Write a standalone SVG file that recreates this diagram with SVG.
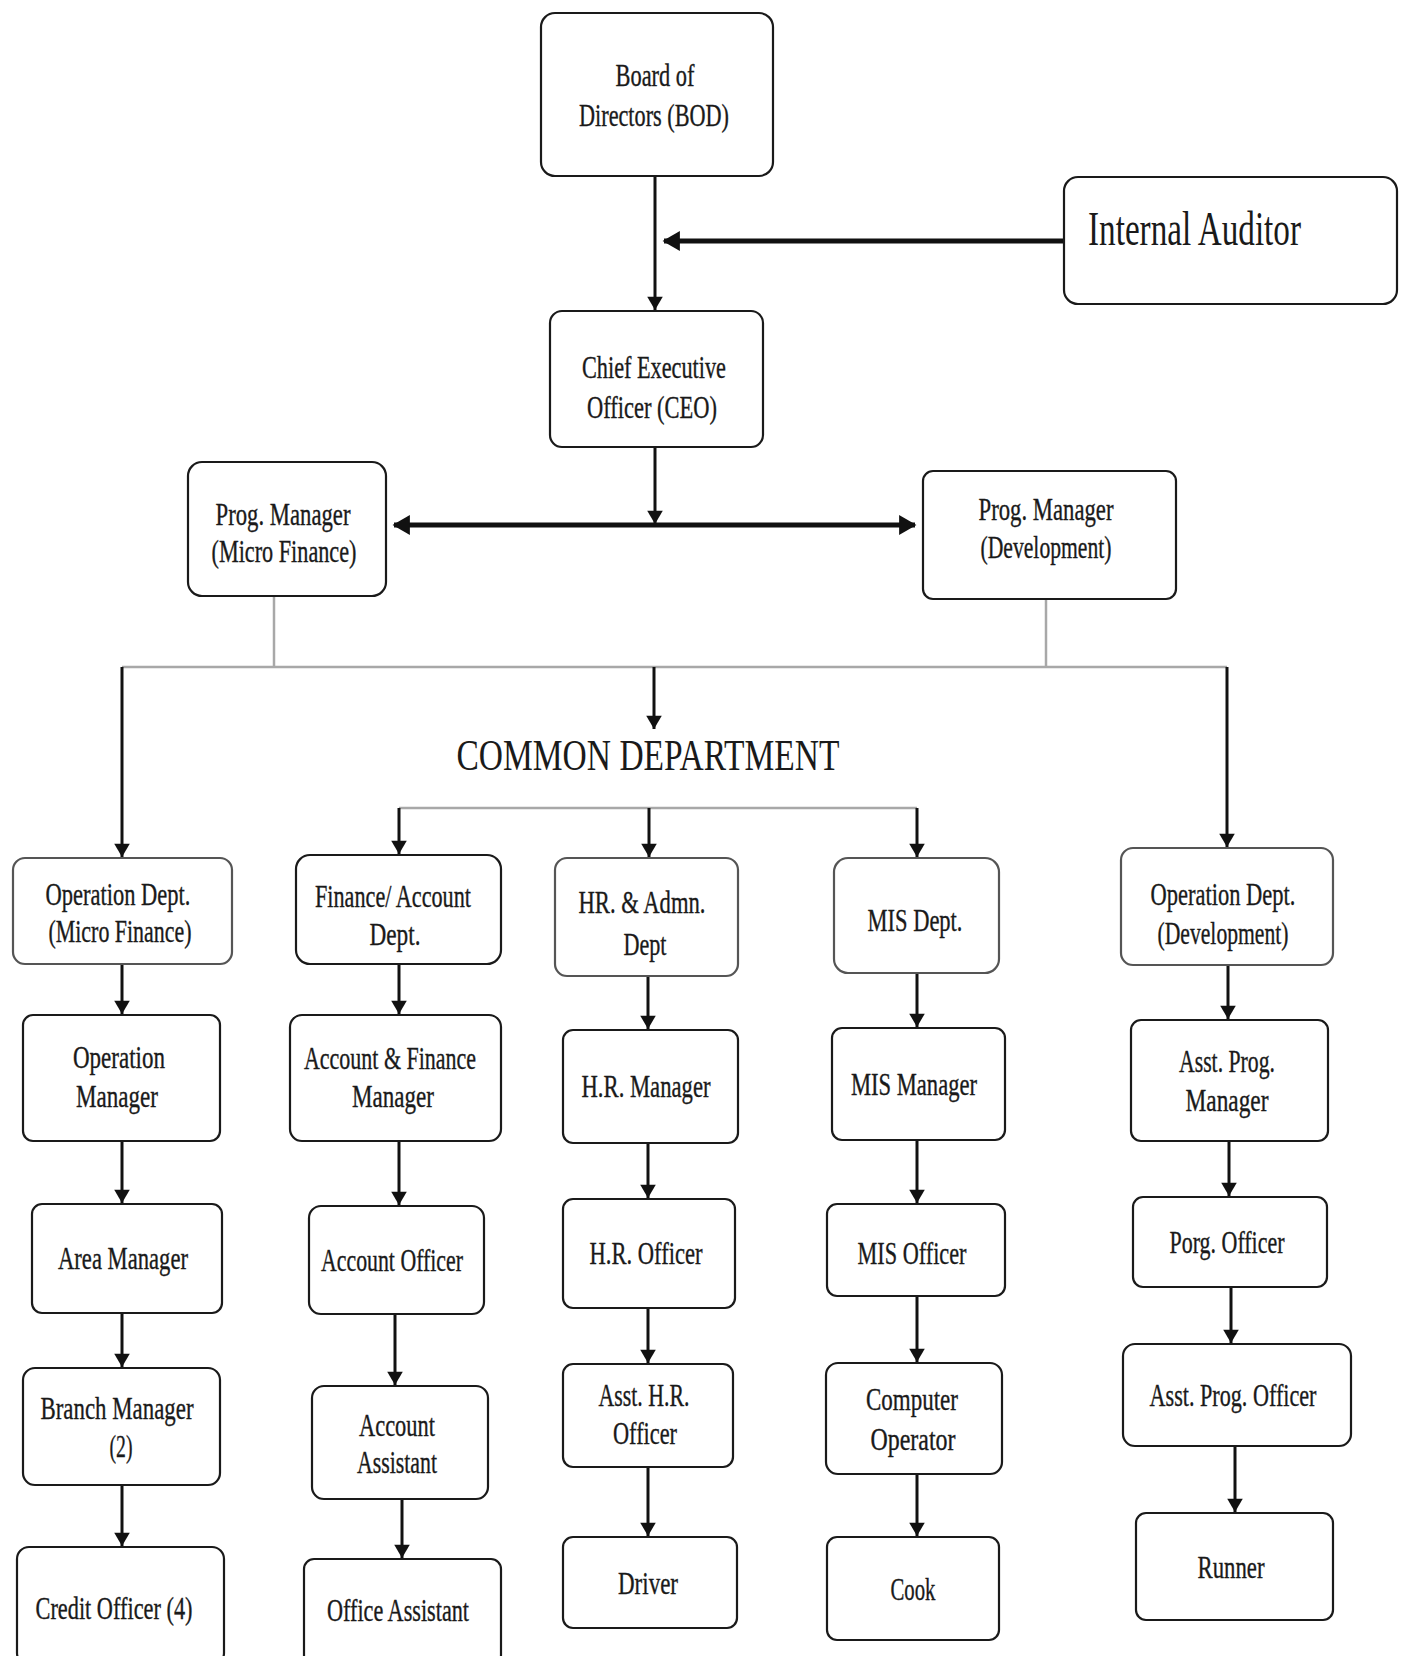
<svg xmlns="http://www.w3.org/2000/svg" width="1407" height="1656" viewBox="0 0 1407 1656">
<style>
.box{fill:#fff;stroke:#1a1a1a;stroke-width:2.2}
.t{font-family:"Liberation Serif","Times New Roman",serif;font-size:31px;fill:#1a1a1a;stroke:#1a1a1a;stroke-width:0.35;text-anchor:middle}
.big{font-family:"Liberation Serif","Times New Roman",serif;fill:#1a1a1a}
.arr{stroke:#111;stroke-width:3;fill:none;marker-end:url(#ah)}
.thick{stroke:#111;stroke-width:5;fill:none}
.gray{stroke:#a8a8a8;stroke-width:2.5;fill:none}
</style>
<defs>
<marker id="ah" viewBox="0 0 12 18" refX="12" refY="9" markerWidth="14" markerHeight="20" markerUnits="userSpaceOnUse" orient="auto">
<path d="M0,2 L12,9 L0,16 Z" fill="#111"/>
</marker>
<marker id="ahb" viewBox="0 0 12 18" refX="11" refY="9" markerWidth="18" markerHeight="26" markerUnits="userSpaceOnUse" orient="auto-start-reverse">
<path d="M0,2 L12,9 L0,16 Z" fill="#111"/>
</marker>
</defs>
<rect width="1407" height="1656" fill="#fff"/>

<g id="connectors">
<line class="arr" x1="655" y1="176" x2="655" y2="310"/>
<line class="thick" x1="1064" y1="241" x2="664" y2="241" marker-end="url(#ahb)"/>
<line class="arr" x1="655" y1="447" x2="655" y2="524"/>
<line class="thick" x1="394" y1="525" x2="915" y2="525" marker-start="url(#ahb)" marker-end="url(#ahb)"/>
<line class="gray" x1="274" y1="596" x2="274" y2="667"/>
<line class="gray" x1="1046" y1="599" x2="1046" y2="667"/>
<line class="gray" x1="122" y1="667" x2="1227" y2="667"/>
<line class="arr" x1="122" y1="667" x2="122" y2="857"/>
<line class="arr" x1="654" y1="667" x2="654" y2="729"/>
<line class="arr" x1="1227" y1="667" x2="1227" y2="847"/>
<line class="gray" x1="399" y1="808" x2="917" y2="808"/>
<line class="arr" x1="399" y1="808" x2="399" y2="854"/>
<line class="arr" x1="649" y1="808" x2="649" y2="857"/>
<line class="arr" x1="917" y1="808" x2="917" y2="857"/>
<line class="arr" x1="122" y1="964" x2="122" y2="1014"/>
<line class="arr" x1="122" y1="1141" x2="122" y2="1203"/>
<line class="arr" x1="122" y1="1313" x2="122" y2="1367"/>
<line class="arr" x1="122" y1="1485" x2="122" y2="1546"/>
<line class="arr" x1="399" y1="964" x2="399" y2="1014"/>
<line class="arr" x1="399" y1="1141" x2="399" y2="1205"/>
<line class="arr" x1="395" y1="1314" x2="395" y2="1385"/>
<line class="arr" x1="402" y1="1499" x2="402" y2="1558"/>
<line class="arr" x1="648" y1="976" x2="648" y2="1029"/>
<line class="arr" x1="648" y1="1143" x2="648" y2="1198"/>
<line class="arr" x1="648" y1="1308" x2="648" y2="1363"/>
<line class="arr" x1="648" y1="1467" x2="648" y2="1536"/>
<line class="arr" x1="917" y1="973" x2="917" y2="1027"/>
<line class="arr" x1="917" y1="1140" x2="917" y2="1203"/>
<line class="arr" x1="917" y1="1296" x2="917" y2="1362"/>
<line class="arr" x1="917" y1="1474" x2="917" y2="1536"/>
<line class="arr" x1="1228" y1="965" x2="1228" y2="1019"/>
<line class="arr" x1="1229" y1="1141" x2="1229" y2="1196"/>
<line class="arr" x1="1231" y1="1287" x2="1231" y2="1343"/>
<line class="arr" x1="1235" y1="1446" x2="1235" y2="1512"/>
</g>

<g id="bod"><rect class="box" x="541" y="13" width="232" height="163" rx="14"/>
<text class="t" x="655" y="86" textLength="79" lengthAdjust="spacingAndGlyphs">Board of</text>
<text class="t" x="654" y="126" textLength="150" lengthAdjust="spacingAndGlyphs">Directors (BOD)</text></g>

<g id="auditor"><rect class="box" x="1064" y="177" width="333" height="127" rx="14"/>
<text class="big" x="1088" y="245" font-size="48" textLength="213" lengthAdjust="spacingAndGlyphs">Internal Auditor</text></g>

<g id="ceo"><rect class="box" x="550" y="311" width="213" height="136" rx="12"/>
<text class="t" x="654" y="378" textLength="144" lengthAdjust="spacingAndGlyphs">Chief Executive</text>
<text class="t" x="652" y="418" textLength="130" lengthAdjust="spacingAndGlyphs">Officer (CEO)</text></g>

<g id="pm-mf"><rect class="box" x="188" y="462" width="198" height="134" rx="14"/>
<text class="t" x="283" y="525" textLength="135" lengthAdjust="spacingAndGlyphs">Prog. Manager</text>
<text class="t" x="284" y="562" textLength="145" lengthAdjust="spacingAndGlyphs">(Micro Finance)</text></g>

<g id="pm-dev"><rect class="box" x="923" y="471" width="253" height="128" rx="10"/>
<text class="t" x="1046" y="520" textLength="135" lengthAdjust="spacingAndGlyphs">Prog. Manager</text>
<text class="t" x="1046" y="558" textLength="131" lengthAdjust="spacingAndGlyphs">(Development)</text></g>

<g id="common"><text class="big" x="648" y="770" font-size="45" text-anchor="middle" textLength="383" lengthAdjust="spacingAndGlyphs">COMMON DEPARTMENT</text></g>

<g id="op-mf"><rect class="box" x="13" y="858" width="219" height="106" rx="12" style="stroke:#555"/>
<text class="t" x="118" y="905" textLength="145" lengthAdjust="spacingAndGlyphs">Operation Dept.</text>
<text class="t" x="120" y="942" textLength="143" lengthAdjust="spacingAndGlyphs">(Micro Finance)</text></g>

<g id="fin-dept"><rect class="box" x="296" y="855" width="205" height="109" rx="14"/>
<text class="t" x="393" y="907" textLength="156" lengthAdjust="spacingAndGlyphs">Finance/ Account</text>
<text class="t" x="395" y="945" textLength="51" lengthAdjust="spacingAndGlyphs">Dept.</text></g>

<g id="hr-dept"><rect class="box" x="555" y="858" width="183" height="118" rx="12" style="stroke:#555"/>
<text class="t" x="642" y="913" textLength="127" lengthAdjust="spacingAndGlyphs">HR. &amp; Admn.</text>
<text class="t" x="645" y="955" textLength="43" lengthAdjust="spacingAndGlyphs">Dept</text></g>

<g id="mis-dept"><rect class="box" x="834" y="858" width="165" height="115" rx="14" style="stroke:#555"/>
<text class="t" x="915" y="931" textLength="95" lengthAdjust="spacingAndGlyphs">MIS Dept.</text></g>

<g id="op-dev"><rect class="box" x="1121" y="848" width="212" height="117" rx="12" style="stroke:#555"/>
<text class="t" x="1223" y="905" textLength="145" lengthAdjust="spacingAndGlyphs">Operation Dept.</text>
<text class="t" x="1223" y="944" textLength="131" lengthAdjust="spacingAndGlyphs">(Development)</text></g>

<g id="op-mgr"><rect class="box" x="23" y="1015" width="197" height="126" rx="10"/>
<text class="t" x="119" y="1068" textLength="92" lengthAdjust="spacingAndGlyphs">Operation</text>
<text class="t" x="117" y="1107" textLength="82" lengthAdjust="spacingAndGlyphs">Manager</text></g>

<g id="af-mgr"><rect class="box" x="290" y="1015" width="211" height="126" rx="12"/>
<text class="t" x="390" y="1069" textLength="172" lengthAdjust="spacingAndGlyphs">Account &amp; Finance</text>
<text class="t" x="393" y="1107" textLength="82" lengthAdjust="spacingAndGlyphs">Manager</text></g>

<g id="hr-mgr"><rect class="box" x="563" y="1030" width="175" height="113" rx="10"/>
<text class="t" x="646" y="1097" textLength="129" lengthAdjust="spacingAndGlyphs">H.R. Manager</text></g>

<g id="mis-mgr"><rect class="box" x="832" y="1028" width="173" height="112" rx="10"/>
<text class="t" x="914" y="1095" textLength="126" lengthAdjust="spacingAndGlyphs">MIS Manager</text></g>

<g id="apm"><rect class="box" x="1131" y="1020" width="197" height="121" rx="10"/>
<text class="t" x="1227" y="1072" textLength="96" lengthAdjust="spacingAndGlyphs">Asst. Prog.</text>
<text class="t" x="1227" y="1111" textLength="83" lengthAdjust="spacingAndGlyphs">Manager</text></g>

<g id="area-mgr"><rect class="box" x="32" y="1204" width="190" height="109" rx="10"/>
<text class="t" x="123" y="1269" textLength="130" lengthAdjust="spacingAndGlyphs">Area Manager</text></g>

<g id="acc-off"><rect class="box" x="309" y="1206" width="175" height="108" rx="12"/>
<text class="t" x="392" y="1271" textLength="142" lengthAdjust="spacingAndGlyphs">Account Officer</text></g>

<g id="hr-off"><rect class="box" x="563" y="1199" width="172" height="109" rx="10"/>
<text class="t" x="646" y="1264" textLength="113" lengthAdjust="spacingAndGlyphs">H.R. Officer</text></g>

<g id="mis-off"><rect class="box" x="827" y="1204" width="178" height="92" rx="10"/>
<text class="t" x="912" y="1264" textLength="109" lengthAdjust="spacingAndGlyphs">MIS Officer</text></g>

<g id="porg-off"><rect class="box" x="1133" y="1197" width="194" height="90" rx="10"/>
<text class="t" x="1227" y="1253" textLength="115" lengthAdjust="spacingAndGlyphs">Porg. Officer</text></g>

<g id="branch-mgr"><rect class="box" x="23" y="1368" width="197" height="117" rx="12"/>
<text class="t" x="117" y="1419" textLength="153" lengthAdjust="spacingAndGlyphs">Branch Manager</text>
<text class="t" x="121" y="1457" textLength="23" lengthAdjust="spacingAndGlyphs">(2)</text></g>

<g id="acc-asst"><rect class="box" x="312" y="1386" width="176" height="113" rx="12"/>
<text class="t" x="397" y="1436" textLength="76" lengthAdjust="spacingAndGlyphs">Account</text>
<text class="t" x="397" y="1473" textLength="80" lengthAdjust="spacingAndGlyphs">Assistant</text></g>

<g id="asst-hr"><rect class="box" x="563" y="1364" width="170" height="103" rx="10"/>
<text class="t" x="644" y="1406" textLength="91" lengthAdjust="spacingAndGlyphs">Asst. H.R.</text>
<text class="t" x="645" y="1444" textLength="64" lengthAdjust="spacingAndGlyphs">Officer</text></g>

<g id="comp-op"><rect class="box" x="826" y="1363" width="176" height="111" rx="12"/>
<text class="t" x="912" y="1410" textLength="92" lengthAdjust="spacingAndGlyphs">Computer</text>
<text class="t" x="913" y="1450" textLength="85" lengthAdjust="spacingAndGlyphs">Operator</text></g>

<g id="apo"><rect class="box" x="1123" y="1344" width="228" height="102" rx="12"/>
<text class="t" x="1233" y="1406" textLength="167" lengthAdjust="spacingAndGlyphs">Asst. Prog. Officer</text></g>

<g id="credit-off"><rect class="box" x="17" y="1547" width="207" height="118" rx="12"/>
<text class="t" x="114" y="1619" textLength="157" lengthAdjust="spacingAndGlyphs">Credit Officer (4)</text></g>

<g id="office-asst"><rect class="box" x="304" y="1559" width="197" height="106" rx="10"/>
<text class="t" x="398" y="1621" textLength="142" lengthAdjust="spacingAndGlyphs">Office Assistant</text></g>

<g id="driver"><rect class="box" x="563" y="1537" width="174" height="91" rx="10"/>
<text class="t" x="648" y="1594" textLength="60" lengthAdjust="spacingAndGlyphs">Driver</text></g>

<g id="cook"><rect class="box" x="827" y="1537" width="172" height="103" rx="10"/>
<text class="t" x="913" y="1600" textLength="45" lengthAdjust="spacingAndGlyphs">Cook</text></g>

<g id="runner"><rect class="box" x="1136" y="1513" width="197" height="107" rx="10"/>
<text class="t" x="1231" y="1578" textLength="67" lengthAdjust="spacingAndGlyphs">Runner</text></g>
</svg>
